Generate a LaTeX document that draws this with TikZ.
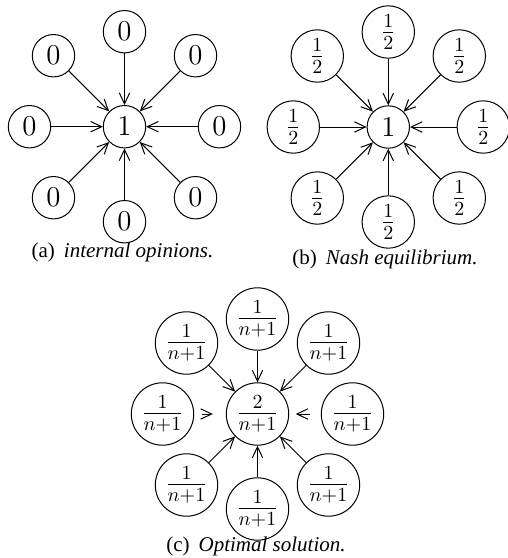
\documentclass[tikz,border=0pt]{standalone}
\usepackage{fontspec}
\newfontfamily\capfont{Liberation Serif}
\usetikzlibrary{arrows.meta}
\tikzset{
  nd/.style={draw, circle, line width=0.5pt, inner sep=0pt, font=\Large},
  sa/.style={nd, minimum size=21.2pt},
  sb/.style={nd, minimum size=26.2pt},
  sc/.style={nd, minimum size=31.2pt},
  arr/.style={-{Straight Barb[length=5.5pt,width=5.2pt]}, line width=0.5pt},
  captxt/.style={anchor=base, font=\capfont\fontsize{10.5}{12}\selectfont}
}
\newcommand{\capsep}{\hspace{4.5pt}}
\begin{document}
\begin{tikzpicture}[x=0.5pt,y=-0.5pt]
\useasboundingbox (0,0) rectangle (508,558);
% (a)
\node[sa] (a0) at (124.5,126.7) {$1$};
\foreach \n/\dx/\dy in {1/0/-95, 2/71/-71, 3/95/0, 4/71/71, 5/0/95, 6/-71/71, 7/-95/0, 8/-71/-71}{
  \node[sa] (a\n) at ({124.5+(\dx)},{126.7+(\dy)}) {$0$};
  \draw[arr] (a\n) -- (a0);
}
\node[captxt] (capa) at (122.5,257) {(a)\capsep\textit{internal opinions.}};
% (b)
\node[sa] (b0) at (388.3,127) {$1$};
\foreach \n/\dx/\dy in {1/0/-95, 2/71/-71, 3/95/0, 4/71/71, 5/0/95, 6/-71/71, 7/-95/0, 8/-71/-71}{
  \node[sb] (b\n) at ({388.3+(\dx)},{127+(\dy)}) {$\frac{1}{2}$};
  \draw[arr] (b\n) -- (b0);
}
\node[captxt] (capb) at (385,264) {(b)\capsep\textit{Nash equilibrium.}};
% (c)
\node[sc] (c0) at (257.5,414) {$\frac{2}{n+1}$};
\foreach \n/\dx/\dy in {1/0/-95, 2/71/-71, 4/71/71, 5/0/95, 6/-71/71, 8/-71/-71}{
  \node[sc] (c\n) at ({257.5+(\dx)},{414+(\dy)}) {$\frac{1}{n+1}$};
  \draw[arr] (c\n) -- (c0);
}
\node[sc] (c3) at (352.5,414) {$\frac{1}{n+1}$};
\node[sc] (c7) at (162.5,414) {$\frac{1}{n+1}$};
\draw[arr, shorten <=5.5pt, shorten >=3.3pt] (c3) -- (c0);
\draw[arr, shorten <=4pt, shorten >=6.5pt] (c7) -- (c0);
\node[captxt] (capc) at (256,551) {(c)\capsep\textit{Optimal solution.}};
\end{tikzpicture}
\end{document}
